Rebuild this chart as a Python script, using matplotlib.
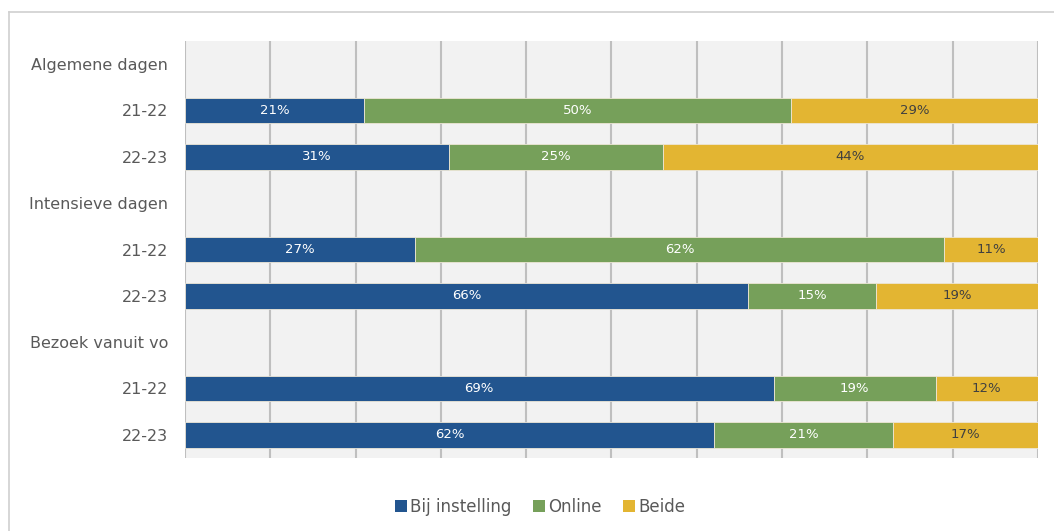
import matplotlib
matplotlib.use("Agg")
import matplotlib.pyplot as plt
from matplotlib.lines import Line2D
from matplotlib.patches import Patch
import numpy as np

plt.rcParams["font.family"] = ["DejaVu Sans"]

row_labels = ["Algemene dagen", "21-22", "22-23",
              "Intensieve dagen", "21-22", "22-23",
              "Bezoek vanuit vo", "21-22", "22-23"]
bij_instelling = [None, 21, 31, None, 27, 66, None, 69, 62]
online = [None, 50, 25, None, 62, 15, None, 19, 21]
beide = [None, 29, 44, None, 11, 19, None, 12, 17]
series_names = ["Bij instelling", "Online", "Beide"]

colors = ["#22558F", "#76A05A", "#E3B532"]
label_colors = ["white", "white", "#404040"]
text_color = "#595959"

fig = plt.figure(figsize=(10.54, 5.31), dpi=100)
ax = fig.add_axes([185/1054, 1-458/531, (1038-185)/1054, (458-41)/531])
ax.set_facecolor("#F2F2F2")

ypos = np.arange(len(row_labels))
series = [bij_instelling, online, beide]
left = np.zeros(len(row_labels))
for s, col, lc in zip(series, colors, label_colors):
    vals = np.array([np.nan if v is None else v for v in s], dtype=float)
    mask = ~np.isnan(vals)
    ax.barh(ypos[mask], vals[mask], left=left[mask], height=0.56, color=col,
            edgecolor="#EDE6D6", linewidth=0.6, zorder=3)
    for y, v, l in zip(ypos[mask], vals[mask], left[mask]):
        ax.text(l + v/2, y, f"{int(v)}%", ha="center", va="center",
                color=lc, fontsize=9.5, zorder=4)
    left[mask] += vals[mask]

ax.set_xlim(0, 100)
ax.set_ylim(len(row_labels) - 0.5, -0.5)
ax.set_xticks(np.arange(0, 101, 10))
ax.xaxis.grid(True, color="#BFBFBF", linewidth=1.5, zorder=0)
ax.set_axisbelow(True)
ax.tick_params(axis="x", length=0, labelbottom=False)
ax.tick_params(axis="y", length=0, pad=12, labelsize=11.5, labelcolor=text_color)
ax.set_yticks(ypos)
ax.set_yticklabels(row_labels)
for sp in ax.spines.values():
    sp.set_visible(False)

handles = [Patch(facecolor=c, edgecolor="none") for c in colors]
leg = fig.legend(handles, series_names, loc="center", bbox_to_anchor=(540/1054, 1-507/531),
                 ncol=3, frameon=False, fontsize=12, handlelength=0.7, handleheight=0.7,
                 handletextpad=0.2, columnspacing=1.3, labelcolor=text_color)

# outer frame (left and top edges visible)
fig.add_artist(Line2D([8.5/1054, 8.5/1054], [0, 1-12/531], transform=fig.transFigure,
                      color="#D0D0D0", linewidth=1.2))
fig.add_artist(Line2D([8.5/1054, 1], [1-12/531, 1-12/531], transform=fig.transFigure,
                      color="#D0D0D0", linewidth=1.2))

fig.savefig("out.png", dpi=100)
